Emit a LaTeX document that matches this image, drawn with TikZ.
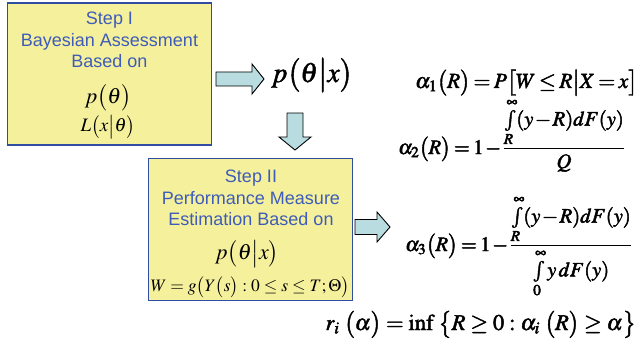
\documentclass[tikz,border=0pt]{standalone}
\usepackage{amsmath}
\usepackage{mathptmx}
\usepackage[no-math]{fontspec}
\setmainfont{Liberation Serif}
\setsansfont{Liberation Sans}
\definecolor{boxfill}{HTML}{F5F09C}
\definecolor{boxline}{HTML}{2F4EA2}
\definecolor{steptext}{HTML}{3E5CB8}
\definecolor{arrowfill}{HTML}{B8DCE0}
% stroked glyphs for the heavy formulas
\newcommand{\heavy}[1]{\special{pdf:literal direct 2 Tr 0.45 w}#1\special{pdf:literal direct 0 Tr 1 w}}
\newcommand{\tightmath}{\thickmuskip=3mu\relax\medmuskip=1.5mu\relax}

\begin{document}
\begin{tikzpicture}[x=1pt,y=-1pt,
  stepbox/.style={draw=boxline, line width=1.3pt, fill=boxfill,
    minimum width=204pt, minimum height=142pt, inner sep=0pt},
  steplabel/.style={align=center, inner sep=0pt, text=steptext,
    font=\sffamily\fontsize{18}{21.5}\selectfont},
  boxmath/.style={inner sep=0pt, font=\fontsize{22}{26}\selectfont},
  formula/.style={inner sep=0pt, font=\fontsize{20.5}{24}\selectfont\tightmath},
  blockarrow/.style={draw=black, line width=0.9pt, fill=arrowfill}]
\useasboundingbox (0,0) rectangle (637,345);

% Step I
\node[stepbox] (step1) at (109.5,74) {};
\node[steplabel] (step1txt) at (109.5,40) {Step I\\Bayesian Assessment\\Based on};
\node[boxmath] (prior) at (108,98) {$p\bigl(\theta\bigr)$};
\node[boxmath, font=\fontsize{19}{22}\selectfont] (lik) at (108,127) {$L\bigl(x\big|\theta\bigr)$};

% posterior
\node[formula, font=\fontsize{28}{32}\selectfont] (post) at (312,75) {\heavy{$p\bigl(\theta\big|x\bigr)$}};

% Step II
\node[stepbox] (step2) at (250.5,229.5) {};
\node[steplabel] (step2txt) at (251,198) {Step II\\Performance Measure\\Estimation Based on};
\node[boxmath] (post2) at (247,254) {$p\bigl(\theta\big|x\bigr)$};
\node[boxmath, font=\fontsize{17.5}{20}\selectfont] (wdef) at (250,287) {$W=g\bigl(Y\bigl(s\bigr):0\le s\le T;\Theta\bigr)$};

% Arrows
\coordinate (a1) at (216,79);
\coordinate (a2) at (295,113);
\coordinate (a3) at (355,227);
\draw[blockarrow] (a1) -- ++(0,-7) -- ++(36,0) -- ++(0,-8) -- ++(12,15)
  -- ++(-12,15) -- ++(0,-8) -- ++(-36,0) -- cycle;
\draw[blockarrow] (a2) -- ++(-8,0) -- ++(0,24) -- ++(-8,0) -- ++(16,13)
  -- ++(16,-13) -- ++(-8,0) -- ++(0,-24) -- cycle;
\draw[blockarrow] (a3) -- ++(0,-7.5) -- ++(22,0) -- ++(0,-7.5) -- ++(13,15)
  -- ++(-13,15) -- ++(0,-7.5) -- ++(-22,0) -- cycle;

% Measures
\node[formula, font=\fontsize{21.5}{25}\selectfont\tightmath, anchor=base west] (alpha1) at (415,88)
  {\heavy{$\alpha_1\bigl(R\bigr)=P\bigl[W\le R\big|X=x\bigr]$}};
\node[formula, anchor=base west] (alpha2) at (398,154)
  {\heavy{$\displaystyle\alpha_2\bigl(R\bigr)=1-\frac{\int\limits_R^\infty(y-R)dF(y)}{Q}$}};
\node[formula, anchor=base west] (alpha3) at (405,251)
  {\heavy{$\displaystyle\alpha_3\bigl(R\bigr)=1-\frac{\int\limits_R^\infty(y-R)dF(y)}{\int\limits_0^\infty y\,dF(y)}$}};
\node[formula, font=\fontsize{22.5}{26}\selectfont, anchor=base east] (quant) at (636,330)
  {\heavy{$r_{i}\;\bigl(\alpha\bigr)=\inf\;\bigl\{R\ge 0:\alpha_{i}\;\bigl(R\bigr)\ge\alpha\bigr\}$}};
\end{tikzpicture}
\end{document}
